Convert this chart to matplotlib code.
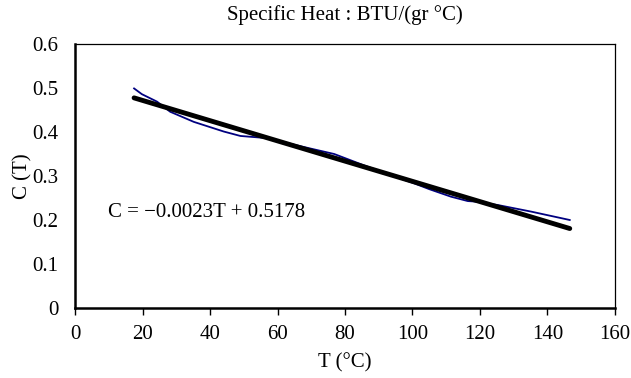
import numpy as np
import matplotlib
matplotlib.use('Agg')
import matplotlib.pyplot as plt

plt.rcParams['font.family'] = ['Liberation Serif', 'DejaVu Serif']

temp = [17.5, 19.8, 24.3, 28.2, 35.2, 44.1, 49.0, 57.0, 65.0, 70.0, 76.8,
        85.0, 90.0, 95.0, 100.6, 105.0, 111.4, 116.4, 118.4, 125.3, 135.2, 146.6]
heat = [0.499, 0.486, 0.469, 0.446, 0.423, 0.401, 0.391, 0.386, 0.371, 0.362, 0.350,
        0.326, 0.312, 0.298, 0.283, 0.270, 0.253, 0.243, 0.242, 0.234, 0.219, 0.200]

# trend line coefficients
slope = -0.0023
intercept = 0.5178

fs = 15

fig = plt.figure(figsize=(6.31, 3.78), dpi=100)
ax = fig.add_axes([0.1189, 0.1852, 0.8557, 0.6984])

t_fit = np.array([temp[0], temp[-1]])
ax.plot(temp, heat, color='#000080', lw=1.3, zorder=2)
ax.plot(t_fit, slope*t_fit + intercept, color='black', lw=3.5, solid_capstyle='round', zorder=3)

ax.text(9.8, 0.216, 'C = \u22120.0023T + 0.5178', fontsize=fs, va='center', ha='left')

ax.set_xlim(0, 160)
ax.set_ylim(0, 0.6)
ax.set_xticks(range(0, 161, 20))
ax.set_yticks([0, 0.1, 0.2, 0.3, 0.4, 0.5, 0.6])
ax.set_yticklabels(['0', '0.1', '0.2', '0.3', '0.4', '0.5', '0.6'])
ax.set_yticks([0, 0.6], minor=True)
ax.tick_params(axis='y', which='major', length=0, pad=12, labelsize=fs)
ax.tick_params(axis='y', which='minor', length=3, width=1)
ax.tick_params(axis='x', length=5, width=1, labelsize=fs, pad=7)

ax.spines['left'].set_linewidth(1.8)
ax.spines['bottom'].set_linewidth(1.8)
ax.spines['top'].set_linewidth(0.9)
ax.spines['right'].set_linewidth(0.9)

ax.set_xlabel('T (\u00b0C)', fontsize=fs, labelpad=7)
ax.set_ylabel('C (T)', fontsize=fs, labelpad=0)
ax.set_title('Specific Heat : BTU/(gr \u00b0C)', fontsize=fs, pad=17)

fig.savefig('out.png', dpi=100)
